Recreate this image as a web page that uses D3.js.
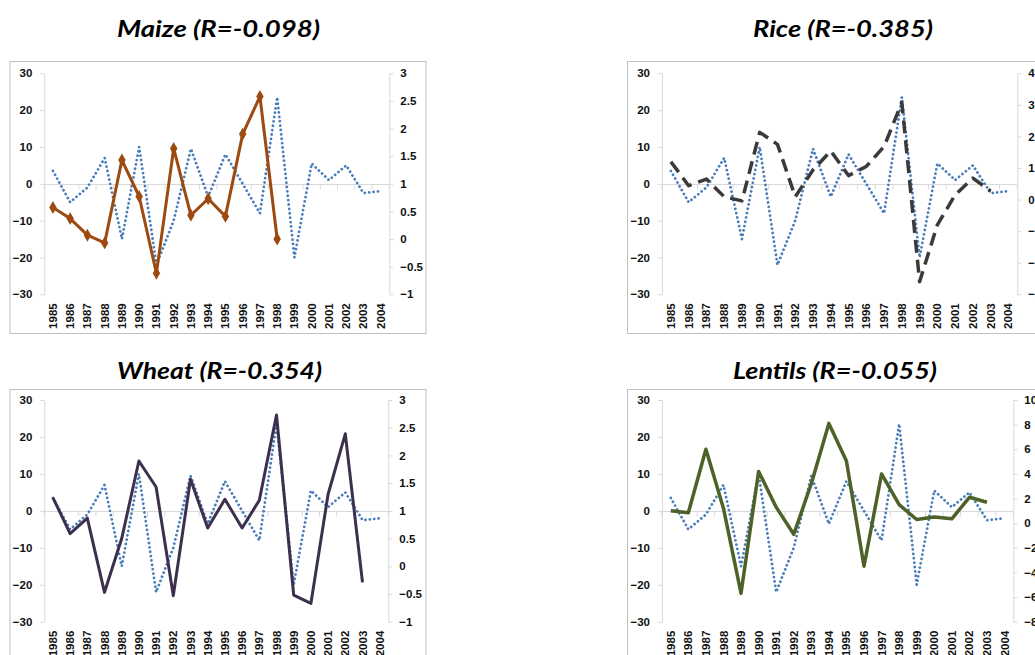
<!DOCTYPE html>
<html>
<head>
<meta charset="utf-8">
<script src="https://cdn.jsdelivr.net/npm/d3@7/dist/d3.min.js"></script>
<style>
  html, body { margin: 0; padding: 0; background: #ffffff; }
  svg { display: block; }
</style>
</head>
<body>
<svg id="chart" width="1035" height="655"></svg>
<script>
// Years on the category axis
const years = ["1985","1986","1987","1988","1989","1990","1991","1992","1993","1994",
               "1995","1996","1997","1998","1999","2000","2001","2002","2003","2004"];

// Shared index series (left axis, dotted blue) shown in every panel
const climateIndex = [3.5, -5, -1, 7, -15, 10, -22, -10, 9.5, -3.5,
                      8, 0, -8, 23.5, -20, 5.5, 1, 5, -2.5, -2];

// Crop series (right axis)
const maize   = [0.57, 0.37, 0.07, -0.07, 1.43, 0.77, -0.62, 1.64, 0.43, 0.73,
                 0.41, 1.9, 2.58, 0.0];
const rice    = [1.2, 0.44, 0.65, 0.09, -0.04, 2.13, 1.75, 0.09, 0.94, 1.54,
                 0.76, 1.05, 1.68, 3.07, -2.6, -0.8, 0.15, 0.68, 0.27];
const wheat   = [1.24, 0.59, 0.87, -0.47, 0.5, 1.9, 1.43, -0.53, 1.57, 0.69,
                 1.21, 0.69, 1.19, 2.73, -0.52, -0.67, 1.3, 2.39, -0.29];
const lentils = [1.0, 0.85, 6.0, 1.2, -5.7, 4.2, 1.3, -0.9, 3.2, 8.1,
                 5.05, -3.5, 4.0, 1.5, 0.3, 0.5, 0.35, 2.1, 1.7];

// Axis tick values
const leftTicks    = [-30, -20, -10, 0, 10, 20, 30];
const maizeTicks   = [-1, -0.5, 0, 0.5, 1, 1.5, 2, 2.5, 3];
const riceTicks    = [-3, -2, -1, 0, 1, 2, 3, 4];
const wheatTicks   = [-1, -0.5, 0, 0.5, 1, 1.5, 2, 2.5, 3];
const lentilsTicks = [-8, -6, -4, -2, 0, 2, 4, 6, 8, 10];

// Panel layout and styling
const panels = [
  { title: "Maize (R=-0.098)", values: maize, ticks: maizeTicks,
    frame: [10, 61.5, 416, 272], plot: [44.3, 73.3, 389.3, 294.3],
    titlePos: [218.5, 37], titleW: 203,
    color: "#9C4A10", width: 3, dash: null, markers: true },
  { title: "Rice (R=-0.385)", values: rice, ticks: riceTicks,
    frame: [627.5, 61.5, 430, 272], plot: [662, 73.3, 1017.3, 294.3],
    titlePos: [843, 37], titleW: 180,
    color: "#3A3A3A", width: 3.5, dash: "13 7", markers: false },
  { title: "Wheat (R=-0.354)", values: wheat, ticks: wheatTicks,
    frame: [10, 389.5, 416, 272], plot: [44.3, 400, 388.3, 621.7],
    titlePos: [219.5, 379], titleW: 205,
    color: "#3D2F4E", width: 3, dash: null, markers: false },
  { title: "Lentils (R=-0.055)", values: lentils, ticks: lentilsTicks,
    frame: [627.5, 389.5, 430, 272], plot: [662, 400, 1013.3, 621.7],
    titlePos: [835, 379], titleW: 204,
    color: "#4E6128", width: 3.5, dash: null, markers: false }
];

const svg = d3.select("#chart");
const axisColor = "#d9d9d9";
const labelFont = "bold 11.5px 'Liberation Sans', Arial, sans-serif";

panels.forEach(p => {
  const g = svg.append("g");
  const [fx, fy, fw, fh] = p.frame;
  const [pl, pt, pr, pb] = p.plot;

  g.append("rect")
    .attr("x", fx).attr("y", fy).attr("width", fw).attr("height", fh)
    .attr("fill", "#ffffff").attr("stroke", "#bfbfbf").attr("stroke-width", 1);

  g.append("text")
    .attr("x", p.titlePos[0]).attr("y", p.titlePos[1])
    .attr("text-anchor", "middle")
    .style("font", "italic bold 23px Lato, 'Open Sans', sans-serif")
    .attr("fill", "#000000")
    .attr("textLength", p.titleW).attr("lengthAdjust", "spacingAndGlyphs")
    .text(p.title);

  const x = d3.scaleBand().domain(years).range([pl, pr]).padding(0);
  const yL = d3.scaleLinear().domain([-30, 30]).range([pb, pt]);
  const yR = d3.scaleLinear().domain(d3.extent(p.ticks)).range([pb, pt]);
  const cx = d => x(d) + x.bandwidth() / 2;

  // Left value axis
  const la = g.append("g").attr("transform", `translate(${pl},0)`)
    .call(d3.axisLeft(yL).tickValues(leftTicks).tickSize(4).tickSizeOuter(0).tickPadding(8));
  // Right value axis
  const ra = g.append("g").attr("transform", `translate(${pr},0)`)
    .call(d3.axisRight(yR).tickValues(p.ticks).tickSize(4).tickSizeOuter(0).tickPadding(7)
      .tickFormat(d3.format("")));
  [la, ra].forEach(a => {
    a.select(".domain").attr("stroke", axisColor);
    a.selectAll(".tick line").attr("stroke", axisColor);
    a.selectAll(".tick text").style("font", labelFont).attr("fill", "#111111");
  });

  // Category axis crossing at zero, with ticks between categories
  const zy = Math.round(yL(0)) + 0.5;
  g.append("line")
    .attr("x1", pl).attr("x2", pr).attr("y1", zy).attr("y2", zy)
    .attr("stroke", axisColor).attr("stroke-width", 1);
  g.append("g").selectAll("line")
    .data(d3.range(years.length + 1))
    .join("line")
    .attr("x1", i => pl + i * x.step()).attr("x2", i => pl + i * x.step())
    .attr("y1", zy).attr("y2", zy + 5)
    .attr("stroke", axisColor).attr("stroke-width", 1);

  // Rotated year labels below the plot
  const xa = g.append("g").attr("transform", `translate(0,${pb})`)
    .call(d3.axisBottom(x).tickSize(0));
  xa.select(".domain").remove();
  xa.selectAll(".tick text")
    .attr("transform", "rotate(-90)")
    .attr("x", -9).attr("y", 0).attr("dy", "0.35em")
    .style("text-anchor", "end")
    .style("font", labelFont).attr("fill", "#111111");

  // Dotted index series
  const lineL = d3.line().x((d, i) => cx(years[i])).y(d => yL(d));
  g.append("path")
    .datum(climateIndex)
    .attr("d", lineL)
    .attr("fill", "none")
    .attr("stroke", "#4A7EBB")
    .attr("stroke-width", 2.8)
    .attr("stroke-linecap", "round")
    .attr("stroke-dasharray", "0.01 4.4");

  // Crop series on the secondary axis
  const lineR = d3.line().x((d, i) => cx(years[i])).y(d => yR(d));
  const path = g.append("path")
    .datum(p.values)
    .attr("d", lineR)
    .attr("fill", "none")
    .attr("stroke", p.color)
    .attr("stroke-width", p.width)
    .attr("stroke-linejoin", "round");
  if (p.dash) path.attr("stroke-dasharray", p.dash);

  if (p.markers) {
    g.append("g").selectAll("path")
      .data(p.values)
      .join("path")
      .attr("transform", (d, i) => `translate(${cx(years[i])},${yR(d)})`)
      .attr("d", d3.symbol(d3.symbolDiamond, 48))
      .attr("fill", p.color);
  }
});
</script>
</body>
</html>
